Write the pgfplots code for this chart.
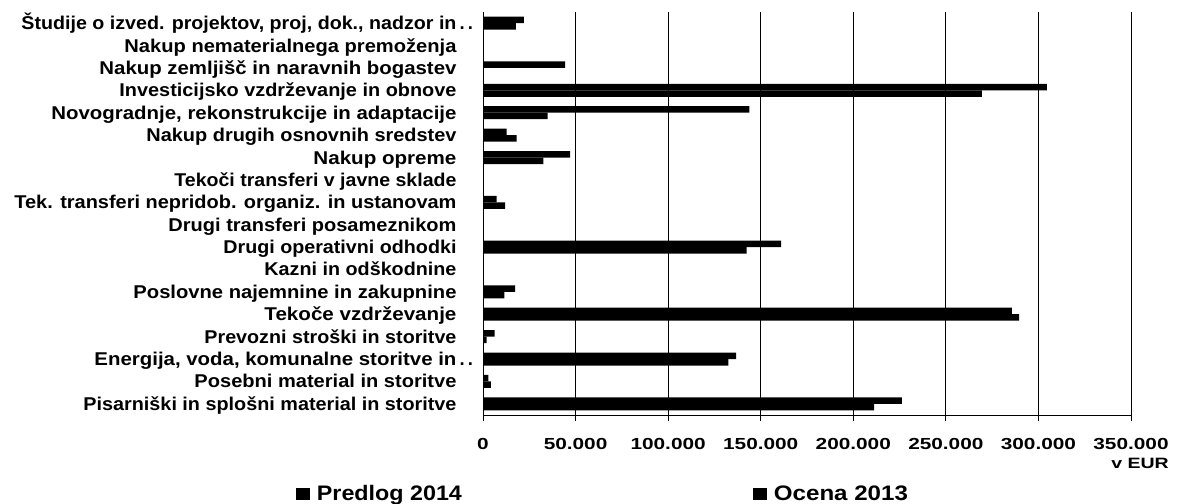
\documentclass[border=0pt]{standalone}
\usepackage{fontspec}
\setmainfont{Liberation Sans}
\usepackage{graphicx}
\usepackage{pgfplots}
\usepackage{pgfplotstable}
\pgfplotsset{compat=1.18}
\newcommand{\lb}[2]{\resizebox{#1pt}{\height}{#2}}
\newcommand{\tx}[1]{\scalebox{1.3}[1]{#1}}
% index 0 = bottom category (Pisarniski), 17 = top (Studije)
\pgfplotstableread{
idx predlog ocena
0  211200 226200
1  4300   2900
2  132500 136700
3  2000   6300
4  289600 285600
5  11500  17300
6  0      0
7  142400 161000
8  0      0
9  11900  7400
10 0      0
11 32600  47000
12 18200  12800
13 34900  143900
14 269400 304500
15 0      44300
16 0      0
17 17700  22100
}\datatable
\begin{document}
\begin{tikzpicture}[x=1pt,y=1pt]
\useasboundingbox (0,0) rectangle (1177,503);
\begin{axis}[
  at={(483pt,88pt)}, anchor=south west,
  scale only axis, width=648pt, height=403pt,
  xbar, bar width=6.5pt,
  xmin=0, xmax=350000, ymin=-0.5, ymax=17.5,
  axis x line*=bottom, axis y line*=left,
  axis line style={black, line width=0.8pt},
  xmajorgrids, grid style={black, line width=0.9pt},
  xtick={0,50000,100000,150000,200000,250000,300000,350000},
  xticklabels={\tx{0},\tx{50.000},\tx{100.000},\tx{150.000},\tx{200.000},\tx{250.000},\tx{300.000},\tx{350.000}},
  scaled x ticks=false,
  xtick align=outside, major tick length=6pt,
  xtick style={black, line width=0.8pt},
  x tick label style={font=\fontsize{16}{16}\selectfont\bfseries, yshift=-14pt},
  ytick={0,...,17},
  ytick style={draw=none},
  yticklabels={
    {\lb{373}{Pisarniški in splošni material in storitve}},
    {\lb{262}{Posebni material in storitve}},
    {\lb{362}{Energija, voda, komunalne storitve in}\rlap{\,.\,.}},
    {\lb{252}{Prevozni stroški in storitve}},
    {\lb{192}{Tekoče vzdrževanje}},
    {\lb{323}{Poslovne najemnine in zakupnine}},
    {\lb{192}{Kazni in odškodnine}},
    {\lb{233}{Drugi operativni odhodki}},
    {\lb{288}{Drugi transferi posameznikom}},
    {\lb{442}{Tek. transferi nepridob. organiz. in ustanovam}},
    {\lb{282}{Tekoči transferi v javne sklade}},
    {\lb{143}{Nakup opreme}},
    {\lb{310}{Nakup drugih osnovnih sredstev}},
    {\lb{405}{Novogradnje, rekonstrukcije in adaptacije}},
    {\lb{337}{Investicijsko vzdrževanje in obnove}},
    {\lb{357}{Nakup zemljišč in naravnih bogastev}},
    {\lb{332}{Nakup nematerialnega premoženja}},
    {\lb{435}{Študije o izved. projektov, proj, dok., nadzor in}\rlap{\,.\,.}}
  },
  y tick label style={font=\fontsize{18.5}{18.5}\selectfont\bfseries, anchor=base east, xshift=-17pt, yshift=-6.5pt},
  legend columns=2,
  legend style={at={(-0.2936,-0.196)}, anchor=west, draw=none, fill=none,
    font=\fontsize{21}{21}\selectfont\bfseries,
    /tikz/every odd column/.append style={column sep=5pt},
    /tikz/every even column/.append style={column sep=289pt}},
]
\addplot[fill=black, draw=none, bar shift=-3.25pt,
  legend image code/.code={\fill[black] (0pt,-6pt) rectangle (14pt,6pt);}]
  table[x=predlog, y=idx] {\datatable};
\addplot[fill=black, draw=none, bar shift=3.25pt,
  legend image code/.code={\fill[black] (0pt,-6pt) rectangle (14pt,6pt);}]
  table[x=ocena, y=idx] {\datatable};
\legend{\lb{145}{Predlog 2014}, \lb{134}{Ocena 2013}}
\end{axis}
\node[font=\fontsize{15}{15}\selectfont\bfseries] at (1140,40) {\tx{v EUR}};
\end{tikzpicture}
\end{document}
